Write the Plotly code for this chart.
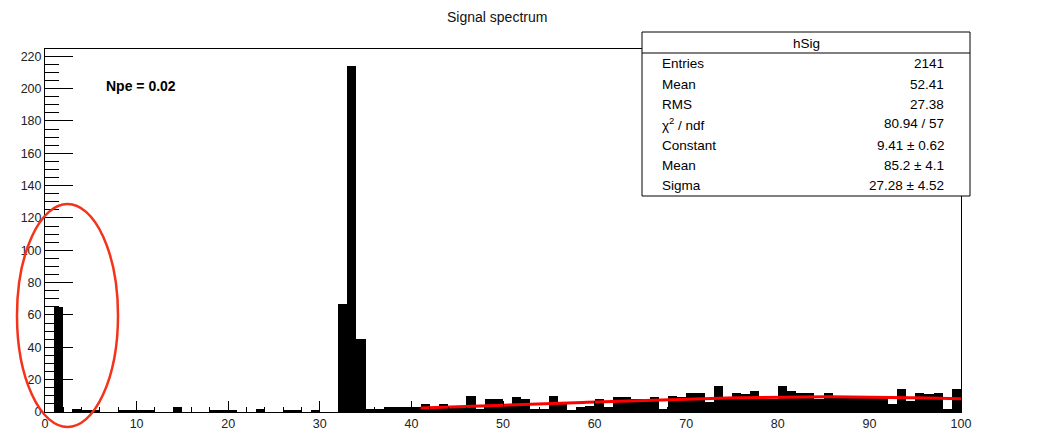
import plotly.graph_objects as go
import math

# ---------------- data ----------------
bin_lo = 0.0
bin_width = 1.0
counts = [
    0, 65, 0, 2, 1, 1, 0, 0, 1, 1,
    1, 1, 0, 0, 3, 0, 0, 0, 1, 1,
    1, 0, 0, 2, 0, 0, 1, 1, 0, 1,
    0, 0, 67, 214, 45, 2, 2, 3, 3, 3,
    3, 5, 3, 5, 3, 4, 10, 2, 8, 8,
    5, 9, 8, 2, 2, 10, 5, 1, 3, 4,
    8, 3, 9, 9, 8, 8, 9, 2, 10, 9,
    12, 12, 6, 16, 9, 12, 11, 13, 8, 8,
    16, 13, 12, 12, 8, 12, 9, 9, 9, 9,
    9, 10, 5, 14, 7, 12, 11, 12, 2, 14,
]
bin_centers = [bin_lo + (i + 0.5) * bin_width for i in range(len(counts))]

# fit (gaus) parameters shown in the stats box
fit_const = 9.41
fit_mean = 85.2
fit_sigma = 27.28
fit_xmin = 41.0
fit_xmax = 100.0

stat_labels = ["Entries", "Mean", "RMS", "χ<sup>2</sup> / ndf", "Constant", "Mean", "Sigma"]
stat_values = ["2141", "52.41", "27.38", "80.94 / 57", "9.41 ± 0.62", "85.2 ± 4.1", "27.28 ± 4.52"]

title_text = "Signal spectrum"
hist_name = "hSig"
npe_text = "Npe = 0.02"

# ---------------- figure ----------------
npx = 120
fx = [fit_xmin + (fit_xmax - fit_xmin) * k / npx for k in range(npx + 1)]
fy = [fit_const * math.exp(-0.5 * ((x - fit_mean) / fit_sigma) ** 2) for x in fx]

fig = go.Figure()
fig.add_trace(go.Bar(
    x=bin_centers, y=counts, width=bin_width,
    marker=dict(color="black", line=dict(width=0)),
    hoverinfo="x+y", showlegend=False,
))
fig.add_trace(go.Scatter(
    x=fx, y=fy, mode="lines",
    line=dict(color="#ff0000", width=3), showlegend=False,
))

# plot-area pixel geometry
L, R, T, B = 45, 961, 49, 412
W, H = 1055, 430

def px(xp):
    return (xp - L) / (R - L)

def py(yp):
    return (B - yp) / (B - T)

FONT = "Liberation Sans, Arial, Helvetica, sans-serif"

fig.update_layout(
    width=W, height=H,
    margin=dict(l=L, r=W - R, t=T, b=H - B, pad=0, autoexpand=False),
    paper_bgcolor="white", plot_bgcolor="white",
    bargap=0, showlegend=False,
    font=dict(family=FONT, color="#111111"),
)
fig.update_xaxes(
    range=[0, 100], dtick=10, tick0=0, automargin=False,
    ticks="inside", ticklen=11, tickwidth=1, tickcolor="black",
    showline=True, linecolor="black", linewidth=1, mirror=True,
    showgrid=False, zeroline=False,
    tickfont=dict(size=12.5, family=FONT, color="#222222"),
    minor=dict(dtick=2, ticks="inside", ticklen=5, tickcolor="black", tickwidth=1, showgrid=False),
)
fig.update_yaxes(
    range=[0, 224.5], dtick=20, tick0=0, automargin=False,
    ticks="inside", ticklen=28, tickwidth=1, tickcolor="black",
    showline=True, linecolor="black", linewidth=1, mirror=True,
    showgrid=False, zeroline=False,
    tickfont=dict(size=12.5, family=FONT, color="#222222"),
    minor=dict(dtick=5, ticks="inside", ticklen=14, tickcolor="black", tickwidth=1, showgrid=False),
)

shapes = []
# stats box
shapes.append(dict(type="rect", xref="paper", yref="paper",
                   x0=px(642), x1=px(970), y0=py(196), y1=py(32),
                   line=dict(color="black", width=1), fillcolor="white", layer="above"))
shapes.append(dict(type="line", xref="paper", yref="paper",
                   x0=px(642), x1=px(970), y0=py(53), y1=py(53),
                   line=dict(color="black", width=1), layer="above"))
# red hand-drawn ellipse
shapes.append(dict(type="circle", xref="paper", yref="paper",
                   x0=px(17), x1=px(118), y0=py(427), y1=py(204),
                   line=dict(color="#f5321a", width=2.5), layer="above"))
fig.update_layout(shapes=shapes)

ann = []
ann.append(dict(text=title_text, xref="paper", yref="paper", x=px(497), y=py(17),
                xanchor="center", yanchor="middle", showarrow=False,
                font=dict(size=14, family=FONT, color="#111111")))
ann.append(dict(text="<b>" + npe_text + "</b>", xref="paper", yref="paper", x=px(104), y=py(86),
                xanchor="left", yanchor="middle", showarrow=False,
                font=dict(size=14, family=FONT, color="black")))
ann.append(dict(text=hist_name, xref="paper", yref="paper", x=px(806), y=py(43),
                xanchor="center", yanchor="middle", showarrow=False,
                font=dict(size=13.5, family=FONT, color="black")))
row_y = [64, 84, 104, 124, 145, 165, 185]
for lab, val, yy in zip(stat_labels, stat_values, row_y):
    ann.append(dict(text=lab, xref="paper", yref="paper", x=px(660), y=py(yy),
                    xanchor="left", yanchor="middle", showarrow=False,
                    font=dict(size=13.5, family=FONT, color="black")))
    ann.append(dict(text=val, xref="paper", yref="paper", x=px(946), y=py(yy),
                    xanchor="right", yanchor="middle", showarrow=False,
                    font=dict(size=13.5, family=FONT, color="black")))
fig.update_layout(annotations=ann)

fig.write_html("out.html")
